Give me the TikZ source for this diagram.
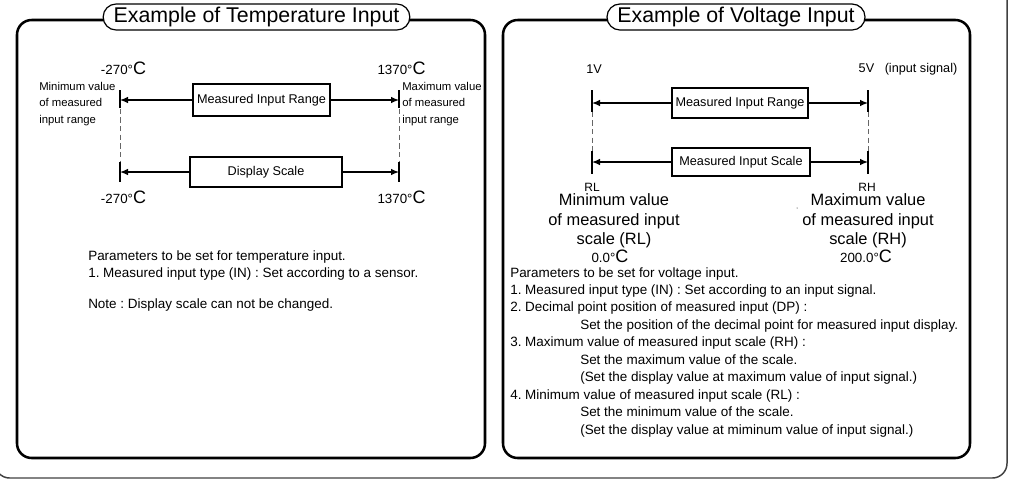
\documentclass[tikz,border=0pt]{standalone}
\usepackage{fontspec}
\setmainfont{Liberation Sans}
\usepackage{tikz}
\usetikzlibrary{arrows.meta, positioning}
\frenchspacing

\newcommand{\tempval}[1]{{\fontsize{10}{12}\selectfont #1°}{\fontsize{13.5}{14}\selectfont C}}

\begin{document}
\begin{tikzpicture}[x=0.75pt, y=-0.75pt, >={Latex[length=6pt, width=5pt]},
    panel/.style={draw, line width=1.9pt, rounded corners=11pt},
    heading/.style={draw, fill=white, line width=0.9pt, rounded corners=9.7pt, minimum height=19.5pt, inner sep=0pt, font=\fontsize{16}{19}\selectfont},
    rangebox/.style={draw, fill=white, line width=1.7pt, inner sep=0pt, font=\fontsize{9.5}{11}\selectfont},
    arrowline/.style={->, line width=1pt},
    tickline/.style={line width=1.5pt},
    guide/.style={black!60, line width=0.75pt, dash pattern=on 4pt off 2.5pt},
    endlabel/.style={font=\fontsize{8.5}{12.4}\selectfont, align=left, inner sep=0pt},
    note/.style={font=\fontsize{10.1}{13.1}\selectfont, align=left, inner sep=0pt},
    bignote/.style={font=\fontsize{12.3}{14.5}\selectfont, align=center, inner sep=0pt}]

    \useasboundingbox (0,0) rectangle (1016,480);
    \clip (0,0) rectangle (1016,480);

    % Outer frame
    \draw[black!75, line width=1.1pt, rounded corners=11pt] (-5,-40) rectangle (1007,478);

    % Panels
    \draw[panel] (17,20) rectangle (485,458);
    \draw[panel] (503,20) rectangle (970,458);
    \node[heading, minimum width=230pt] (tempTitle) at (256.5,17) {Example of Temperature Input};
    \node[heading, minimum width=193.5pt] (voltTitle) at (736,17) {Example of Voltage Input};

    % Temperature input: end points
    \coordinate (tminA) at (120,100);
    \coordinate (tmaxA) at (399,100);
    \coordinate (tminB) at (120,172);
    \coordinate (tmaxB) at (399,172);

    % Temperature input: boxes
    \node[rangebox, minimum width=102.75pt, minimum height=24pt] (tempRange) at (261.5,100) {Measured Input Range};
    \node[rangebox, minimum width=114pt, minimum height=22pt] (tempScale) at (266,172) {Display Scale};

    % Temperature input: labels
    \node (tminTop) at (123.5,68) {\tempval{-270}};
    \node (tmaxTop) at (401.5,68) {\tempval{1370}};
    \node (tminBot) at (123.5,197) {\tempval{-270}};
    \node (tmaxBot) at (401.5,197) {\tempval{1370}};
    \node[endlabel, anchor=west] (tminText) at (39,104) {Minimum value\\of measured\\input range};
    \node[endlabel, anchor=west] (tmaxText) at (402,104) {Maximum value\\of measured\\input range};

    % Temperature input: arrows and ticks
    \draw[guide] (tminA) -- (tminB);
    \draw[guide] (tmaxA) -- (tmaxB);
    \draw[tickline] (tminA) ++(0,-10) -- ++(0,18);
    \draw[tickline] (tmaxA) ++(0,-10) -- ++(0,18);
    \draw[tickline] (tminB) ++(0,-10) -- ++(0,20);
    \draw[tickline] (tmaxB) ++(0,-10) -- ++(0,20);
    \draw[arrowline] (tempRange) -- (tminA);
    \draw[arrowline] (tempRange) -- (tmaxA);
    \draw[arrowline] (tempScale) -- (tminB);
    \draw[arrowline] (tempScale) -- (tmaxB);

    % Temperature input: parameters
    \node[note, anchor=north west] (tempNote) at (88,250) {Parameters to be set for temperature input.\\
        1. Measured input type (IN) : Set according to a sensor.\\[10.5pt]
        Note : Display scale can not be changed.};

    % Voltage input: end points
    \coordinate (vminA) at (592,103);
    \coordinate (vmaxA) at (868,103);
    \coordinate (vminB) at (592,162);
    \coordinate (vmaxB) at (868,162);

    % Voltage input: boxes
    \node[rangebox, minimum width=102pt, minimum height=22.5pt] (voltRange) at (740,103) {Measured Input Range};
    \node[rangebox, minimum width=103.5pt, minimum height=21pt] (voltScale) at (741,162) {Measured Input Scale};

    % Voltage input: labels
    \node[font=\fontsize{9.5}{11}\selectfont] (vminTop) at (594,69) {1V};
    \node[font=\fontsize{9.5}{11}\selectfont, anchor=east] (vmaxTop) at (962,69) {5V\ \ \ (input signal)};
    \node[font=\fontsize{9}{11}\selectfont] (rlMark) at (592,187) {RL};
    \node[font=\fontsize{9}{11}\selectfont] (rhMark) at (867,187) {RH};
    \node[bignote] (rlText) at (614,221) {Minimum value\\of measured input\\scale (RL)};
    \node[bignote] (rhText) at (868,221) {Maximum value\\of measured input\\scale (RH)};
    \node (rlValue) at (610,256) {\tempval{0.0}};
    \node (rhValue) at (866,256) {\tempval{200.0}};
    \fill (797,208) circle (0.5);

    % Voltage input: arrows and ticks
    \draw[guide] (vminA) -- (vminB);
    \draw[guide] (vmaxA) -- (vmaxB);
    \draw[tickline] (vminA) ++(0,-13) -- ++(0,22);
    \draw[tickline] (vmaxA) ++(0,-13) -- ++(0,22);
    \draw[tickline] (vminB) ++(0,-11) -- ++(0,23);
    \draw[tickline] (vmaxB) ++(0,-11) -- ++(0,23);
    \draw[arrowline] (voltRange) -- (vminA);
    \draw[arrowline] (voltRange) -- (vmaxA);
    \draw[arrowline] (voltScale) -- (vminB);
    \draw[arrowline] (voltScale) -- (vmaxB);

    % Voltage input: parameters
    \node[note, anchor=north west] (voltNote) at (510,267) {Parameters to be set for voltage input.\\
        1. Measured input type (IN) : Set according to an input signal.\\
        2. Decimal point position of measured input (DP) :\\
        \hspace*{52.5pt}Set the position of the decimal point for measured input display.\\
        3. Maximum value of measured input scale (RH) :\\
        \hspace*{52.5pt}Set the maximum value of the scale.\\
        \hspace*{52.5pt}(Set the display value at maximum value of input signal.)\\
        4. Minimum value of measured input scale (RL) :\\
        \hspace*{52.5pt}Set the minimum value of the scale.\\
        \hspace*{52.5pt}(Set the display value at miminum value of input signal.)};

\end{tikzpicture}
\end{document}
